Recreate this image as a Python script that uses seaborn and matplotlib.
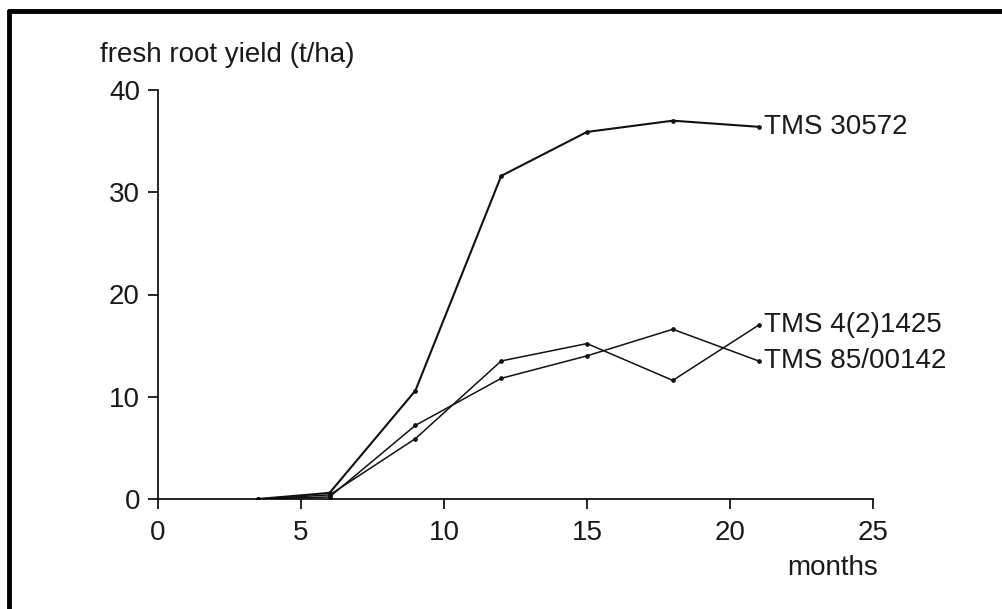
import pandas as pd
import matplotlib
matplotlib.use("Agg")
import matplotlib.pyplot as plt
import seaborn as sns
from matplotlib.lines import Line2D

sns.set_theme(style="white")
plt.rcParams["font.family"] = ["Liberation Sans", "DejaVu Sans"]
plt.rcParams["font.size"] = 20

months = [3.5, 6, 9, 12, 15, 18, 21]
tms_30572 = [0, 0.6, 10.6, 31.6, 35.9, 37.0, 36.4]
tms_4_2_1425 = [0, 0.4, 5.9, 13.5, 15.2, 11.6, 17.0]
tms_85_00142 = [0, 0.2, 7.2, 11.8, 14.0, 16.6, 13.5]
names = ["TMS 30572", "TMS 4(2)1425", "TMS 85/00142"]

data = pd.DataFrame({
    "months": months * 3,
    "yield": tms_30572 + tms_4_2_1425 + tms_85_00142,
    "variety": [n for n in names for _ in months],
})

fig = plt.figure(figsize=(10.03, 6.09), dpi=100)
ax = fig.add_axes([158 / 1003, 110 / 609, (873 - 158) / 1003, (499 - 90) / 609])

widths = {"TMS 30572": 1.5, "TMS 4(2)1425": 1.1, "TMS 85/00142": 1.1}
for n in names:
    sub = data[data["variety"] == n]
    sns.lineplot(data=sub, x="months", y="yield", color="#111111",
                 marker="o", markersize=2.6, markeredgecolor="#111111",
                 lw=widths[n], ax=ax)
    last = sub.iloc[-1]
    ax.annotate(n, (last["months"], last["yield"]), xytext=(4, 0),
                textcoords="offset points", va="center", ha="left",
                fontsize=20, color="#1a1a1a", annotation_clip=False)

ax.set_xlim(0, 25)
ax.set_ylim(0, 40)
ax.set_xticks([0, 5, 10, 15, 20, 25])
ax.set_yticks([0, 10, 20, 30, 40])
ax.spines["right"].set_visible(False)
ax.spines["top"].set_visible(False)
for s in ["left", "bottom"]:
    ax.spines[s].set_color("black")
    ax.spines[s].set_linewidth(1.2)
ax.tick_params(axis="both", direction="out", length=7, width=1.2,
               color="black", labelsize=20, labelcolor="#1a1a1a",
               left=True, bottom=True)
ax.tick_params(axis="x", pad=8)
ax.tick_params(axis="y", pad=6)
ax.set_xlabel("")
ax.set_ylabel("")

fig.text(100 / 1003, 1 - 55 / 609, "fresh root yield (t/ha)",
         ha="left", va="center", fontsize=20, color="#1a1a1a")
fig.text(833 / 1003, 1 - 568 / 609, "months",
         ha="center", va="center", fontsize=20, color="#1a1a1a")

# page frame: top and left edges
fig.add_artist(Line2D([9 / 1003, 1], [1 - 11 / 609, 1 - 11 / 609],
                      transform=fig.transFigure, color="black", lw=3.5))
fig.add_artist(Line2D([9 / 1003, 9 / 1003], [0, 1 - 11 / 609],
                      transform=fig.transFigure, color="black", lw=3.5))

fig.savefig("out.png", dpi=100, facecolor="white")
